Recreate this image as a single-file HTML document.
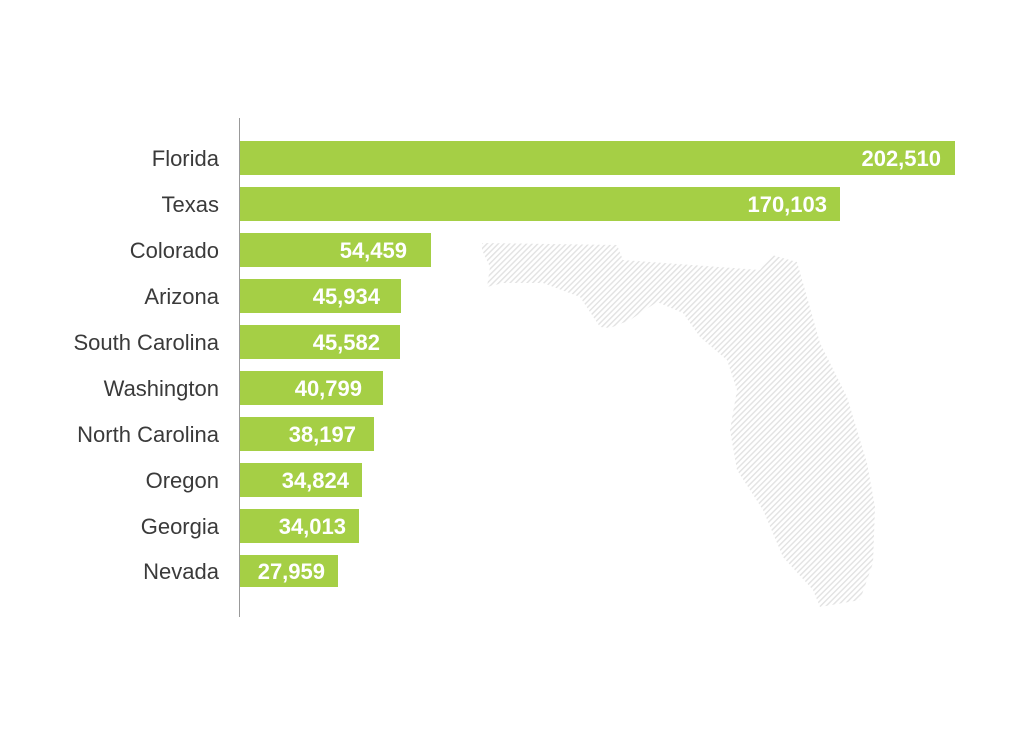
<!DOCTYPE html>
<html><head><meta charset="utf-8"><style>
body{margin:0;background:#fff;}
svg{display:block}
</style></head><body>
<svg width="1024" height="730" xmlns="http://www.w3.org/2000/svg" font-family="Liberation Sans, sans-serif">
<defs>
<pattern id="h" width="4" height="4" patternUnits="userSpaceOnUse" patternTransform="rotate(45)">
<rect width="1.4" height="4" fill="#e2e2e2"/>
</pattern>
</defs>
<path fill="url(#h)" d="M482,243 L617,245 L623,260 L760,270 L772,255 L797,262 L803,283 L820,343 L847,397 L867,463 L875,507 L873,563 L860,600 L820,607 L813,590 L783,557 L763,510 L737,470 L730,430 L737,390 L727,360 L700,337 L683,313 L657,302 L630,320 L610,328 L600,327 L580,297 L543,283 L503,283 L487,287 L490,267 L482,250 Z"/>
<line x1="239.5" y1="118" x2="239.5" y2="617" stroke="#999" stroke-width="1"/>
<g fill="#a5cf45">
<rect x="240" y="141" width="715" height="34"/>
<rect x="240" y="187" width="600" height="34"/>
<rect x="240" y="233" width="191" height="34"/>
<rect x="240" y="279" width="161" height="34"/>
<rect x="240" y="325" width="160" height="34"/>
<rect x="240" y="371" width="143" height="34"/>
<rect x="240" y="417" width="134" height="34"/>
<rect x="240" y="463" width="122" height="34"/>
<rect x="240" y="509" width="119" height="34"/>
<rect x="240" y="555" width="98" height="32"/>
</g>
<g font-size="22" fill="#3a3a3a" text-anchor="end">
<text x="219" y="166">Florida</text>
<text x="219" y="212">Texas</text>
<text x="219" y="258">Colorado</text>
<text x="219" y="304">Arizona</text>
<text x="219" y="350">South Carolina</text>
<text x="219" y="396">Washington</text>
<text x="219" y="442">North Carolina</text>
<text x="219" y="488">Oregon</text>
<text x="219" y="534">Georgia</text>
<text x="219" y="579">Nevada</text>
</g>
<g font-size="22" font-weight="bold" fill="#fff" text-anchor="end">
<text x="941" y="166">202,510</text>
<text x="827" y="212">170,103</text>
<text x="407" y="258">54,459</text>
<text x="380" y="304">45,934</text>
<text x="380" y="350">45,582</text>
<text x="362" y="396">40,799</text>
<text x="356" y="442">38,197</text>
<text x="349" y="488">34,824</text>
<text x="346" y="534">34,013</text>
<text x="325" y="579">27,959</text>
</g>
</svg>
</body></html>
